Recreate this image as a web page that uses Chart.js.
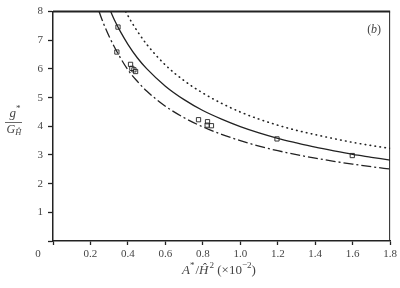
<!DOCTYPE html>
<html>
<head>
<meta charset="utf-8">
<script src="https://cdn.jsdelivr.net/npm/chart.js@4"></script>
<style>
  html, body { margin: 0; padding: 0; background: #fff; }
  #wrap { width: 400px; height: 288px; }
</style>
</head>
<body>
<div id="wrap"><canvas id="chart" width="400" height="288"></canvas></div>
<script>
// values
const solidX = [0.308, 0.33, 0.36, 0.4, 0.45, 0.5, 0.6, 0.7, 0.8, 0.9, 1.0, 1.1, 1.2, 1.3, 1.4, 1.5, 1.6, 1.7, 1.8];
const solidY = [8.0, 7.68, 7.30, 6.86, 6.39, 6.01, 5.40, 4.93, 4.55, 4.25, 3.99, 3.77, 3.58, 3.42, 3.27, 3.14, 3.02, 2.92, 2.82];

const dashX = [0.246, 0.27, 0.3, 0.35, 0.4, 0.45, 0.5, 0.6, 0.7, 0.8, 0.9, 1.0, 1.1, 1.2, 1.3, 1.4, 1.5, 1.6, 1.7, 1.8];
const dashY = [8.0, 7.58, 7.13, 6.50, 5.97, 5.57, 5.23, 4.70, 4.30, 3.98, 3.72, 3.50, 3.31, 3.15, 3.01, 2.89, 2.78, 2.68, 2.59, 2.51];

const dotX = [0.388, 0.42, 0.45, 0.5, 0.6, 0.7, 0.8, 0.9, 1.0, 1.1, 1.2, 1.3, 1.4, 1.5, 1.6, 1.7, 1.8];
const dotY = [8.0, 7.63, 7.32, 6.86, 6.14, 5.59, 5.16, 4.80, 4.50, 4.25, 4.04, 3.86, 3.71, 3.57, 3.44, 3.33, 3.23];

const pointX = [0.347, 0.341, 0.414, 0.421, 0.432, 0.441, 0.777, 0.825, 0.823, 0.846, 1.196, 1.598];
const pointY = [7.46, 6.59, 6.16, 6.02, 5.97, 5.91, 4.23, 4.16, 4.04, 4.02, 3.56, 2.98];

const xTicks = [0, 0.2, 0.4, 0.6, 0.8, 1.0, 1.2, 1.4, 1.6, 1.8];
const yTicks = [0, 1, 2, 3, 4, 5, 6, 7, 8];

const ink = '#222';
const textInk = '#444';
const serif = '"Liberation Serif", "DejaVu Serif", serif';

function pairs(xs, ys) {
  return xs.map((x, i) => ({ x: x, y: ys[i] }));
}

function drawRuns(ctx, runs, x, y, size) {
  // runs: {t, it, sup, sub}
  let cx = x;
  runs.forEach(r => {
    const s = (r.sup || r.sub) ? size * 0.7 : size;
    ctx.font = (r.it ? 'italic ' : '') + s + 'px ' + serif;
    let dy = 0;
    if (r.sup) dy = -size * 0.38;
    if (r.sub) dy = size * 0.25;
    ctx.fillText(r.t, cx, y + dy);
    cx += ctx.measureText(r.t).width + (r.gap || 0);
  });
  return cx;
}

const extras = {
  id: 'extras',
  afterDraw(chart) {
    const ctx = chart.ctx;
    const a = chart.chartArea;
    const xs = chart.scales.x, ys = chart.scales.y;
    ctx.save();
    // frame top and right
    ctx.strokeStyle = ink;
    ctx.lineWidth = 2;
    ctx.beginPath();
    ctx.moveTo(a.left, a.top);
    ctx.lineTo(a.right, a.top);
    ctx.stroke();
    ctx.lineWidth = 1;
    ctx.beginPath();
    ctx.moveTo(a.right - 0.5, a.top);
    ctx.lineTo(a.right - 0.5, a.bottom);
    ctx.stroke();

    ctx.fillStyle = textInk;
    ctx.textBaseline = 'middle';

    // shared origin label
    ctx.font = '11px ' + serif;
    ctx.textAlign = 'center';
    ctx.fillText('0', xs.getPixelForValue(0) - 15, ys.getPixelForValue(0) + 13);

    // panel tag
    ctx.textAlign = 'left';
    drawRuns(ctx, [{ t: '(' }, { t: 'b', it: true }, { t: ')' }], a.right - 23, a.top + 18, 12);

    // y title: g* over G_H
    const cx = 13.5, cy = 122;
    drawRuns(ctx, [{ t: 'g', it: true }, { t: '*', sup: true }], cx - 4, cy - 8, 13);
    ctx.strokeStyle = textInk;
    ctx.lineWidth = 0.8;
    ctx.beginPath();
    ctx.moveTo(cx - 8.5, cy + 0.5);
    ctx.lineTo(cx + 8.5, cy + 0.5);
    ctx.stroke();
    drawRuns(ctx, [{ t: 'G', it: true }, { t: 'Ĥ', it: true, sub: true }], cx - 7, cy + 8, 12);

    // x title
    drawRuns(ctx, [
      { t: 'A', it: true }, { t: '*', sup: true, gap: 1 }, { t: '/' },
      { t: 'Ĥ', it: true, gap: 1 }, { t: '2', sup: true }, { t: ' (×10' },
      { t: '−2', sup: true }, { t: ')' }
    ], 182, 271, 13);
    ctx.restore();
  }
};

const lineBase = {
  type: 'line',
  showLine: true,
  pointRadius: 0,
  borderColor: ink,
  fill: false,
  cubicInterpolationMode: 'monotone'
};

new Chart(document.getElementById('chart').getContext('2d'), {
  type: 'scatter',
  data: {
    datasets: [
      Object.assign({}, lineBase, { label: 'solid', data: pairs(solidX, solidY), borderWidth: 1.3 }),
      Object.assign({}, lineBase, { label: 'dashed', data: pairs(dashX, dashY), borderWidth: 1.3, borderDash: [10, 3, 2, 3] }),
      Object.assign({}, lineBase, { label: 'dotted', data: pairs(dotX, dotY), borderWidth: 1.6, borderDash: [0.5, 4.5], borderCapStyle: 'round' }),
      {
        label: 'data',
        data: pairs(pointX, pointY),
        pointStyle: 'rect',
        pointRadius: 3,
        borderWidth: 0.9,
        borderColor: ink,
        backgroundColor: 'rgba(255,255,255,0)'
      }
    ]
  },
  options: {
    responsive: false,
    animation: false,
    layout: { padding: { left: 0, right: 9, top: 8, bottom: 0 } },
    plugins: { legend: { display: false }, tooltip: { enabled: false } },
    scales: {
      x: {
        type: 'linear',
        min: 0,
        max: 1.8,
        afterFit: s => { s.height = 47; },
        afterBuildTicks: s => { s.ticks = xTicks.map(v => ({ value: v })); },
        ticks: {
          padding: 3,
          color: textInk,
          font: { family: serif, size: 11 },
          callback: v => v === 0 ? '' : Number(v).toFixed(1)
        },
        grid: { drawOnChartArea: false, tickLength: 4, tickColor: ink, tickWidth: 1.3 },
        border: { display: true, color: ink, width: 1.5 }
      },
      y: {
        type: 'linear',
        min: 0,
        max: 8,
        afterFit: s => { s.width = 53; },
        afterBuildTicks: s => { s.ticks = yTicks.map(v => ({ value: v })); },
        ticks: {
          padding: 5,
          color: textInk,
          font: { family: serif, size: 11 },
          callback: v => v === 0 ? '' : String(v)
        },
        grid: { drawOnChartArea: false, tickLength: 5, tickColor: ink, tickWidth: 1.3 },
        border: { display: true, color: ink, width: 1.5 }
      }
    }
  },
  plugins: [extras]
});
</script>
</body>
</html>
